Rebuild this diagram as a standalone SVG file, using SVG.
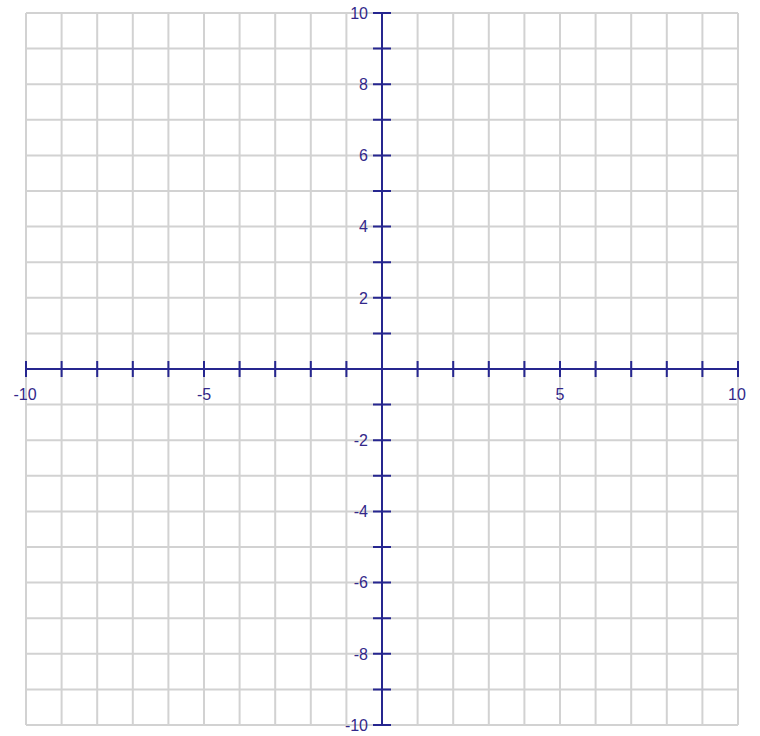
<svg xmlns="http://www.w3.org/2000/svg" width="760" height="736" viewBox="0 0 760 736">
<style>
.grid{stroke:#d2d2d2;stroke-width:2;fill:none}
.axis{stroke:#26268f;stroke-width:2;fill:none}
.lbl{font-family:"Liberation Sans",Arial,sans-serif;font-size:16px;fill:#33288a}
.xl{text-anchor:middle}
.yl{text-anchor:end}
</style>
<rect width="760" height="736" fill="#ffffff"/>
<g id="grid" class="grid">
<path d="M26 13V725M61.6 13V725M97.2 13V725M132.8 13V725M168.4 13V725M204 13V725M239.6 13V725M275.2 13V725M310.8 13V725M346.4 13V725M382 13V725M417.6 13V725M453.2 13V725M488.8 13V725M524.4 13V725M560 13V725M595.6 13V725M631.2 13V725M666.8 13V725M702.4 13V725M738 13V725"/>
<path d="M26 13H738M26 48.6H738M26 84.2H738M26 119.8H738M26 155.4H738M26 191H738M26 226.6H738M26 262.2H738M26 297.8H738M26 333.4H738M26 369H738M26 404.6H738M26 440.2H738M26 475.8H738M26 511.4H738M26 547H738M26 582.6H738M26 618.2H738M26 653.8H738M26 689.4H738M26 725H738"/>
</g>
<g id="axes" class="axis">
<path d="M26 369H738M382 13V725"/>
<path d="M26 361V377M61.6 361V377M97.2 361V377M132.8 361V377M168.4 361V377M204 361V377M239.6 361V377M275.2 361V377M310.8 361V377M346.4 361V377M417.6 361V377M453.2 361V377M488.8 361V377M524.4 361V377M560 361V377M595.6 361V377M631.2 361V377M666.8 361V377M702.4 361V377M738 361V377"/>
<path d="M373 13H391M373 48.6H391M373 84.2H391M373 119.8H391M373 155.4H391M373 191H391M373 226.6H391M373 262.2H391M373 297.8H391M373 333.4H391M373 404.6H391M373 440.2H391M373 475.8H391M373 511.4H391M373 547H391M373 582.6H391M373 618.2H391M373 653.8H391M373 689.4H391M373 725H391"/>
</g>
<g id="xlabels" class="lbl xl">
<text x="25" y="400">-10</text>
<text x="204" y="400">-5</text>
<text x="560" y="400">5</text>
<text x="737" y="400">10</text>
</g>
<g id="ylabels" class="lbl yl">
<text x="368" y="18.8">10</text>
<text x="368" y="90">8</text>
<text x="368" y="161.2">6</text>
<text x="368" y="232.4">4</text>
<text x="368" y="303.6">2</text>
<text x="368" y="446">-2</text>
<text x="368" y="517.2">-4</text>
<text x="368" y="588.4">-6</text>
<text x="368" y="659.6">-8</text>
<text x="368" y="730.8">-10</text>
</g>
</svg>
